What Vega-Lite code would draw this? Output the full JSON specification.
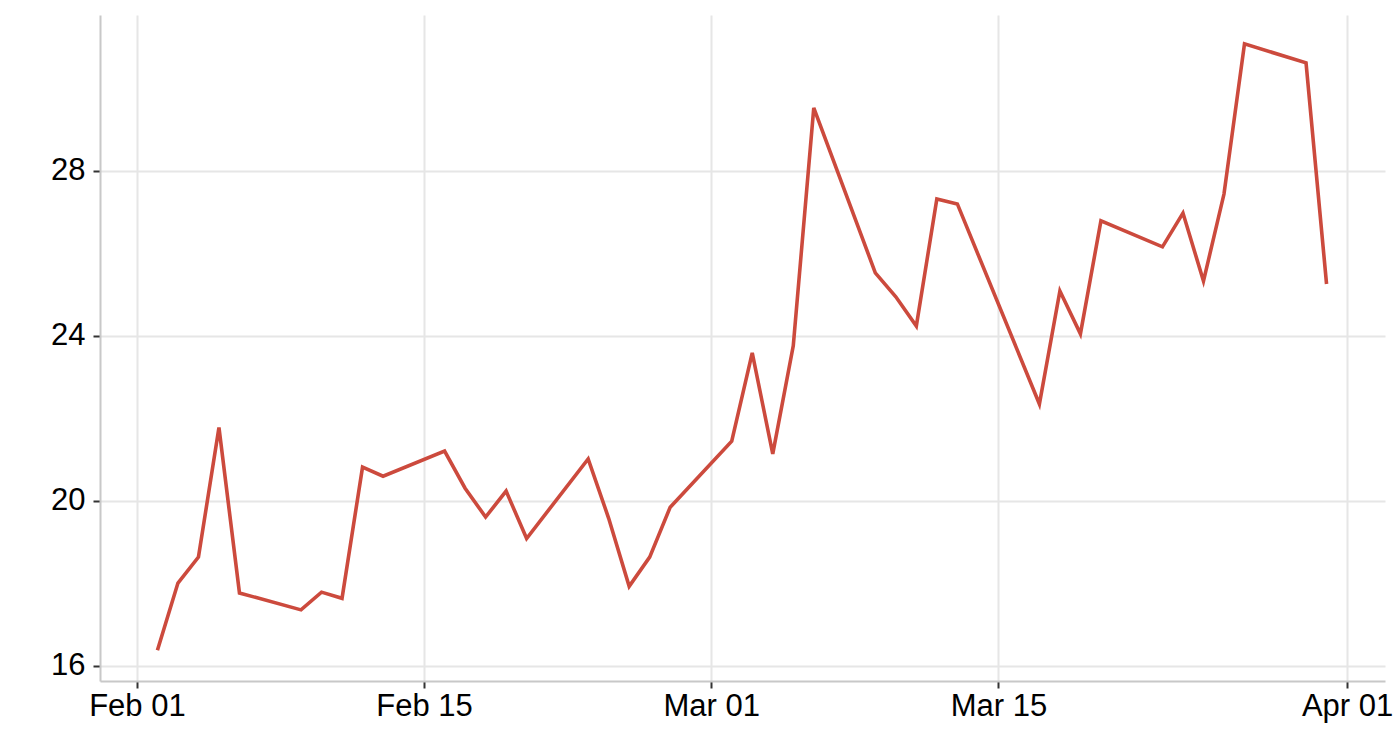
{
  "$schema": "https://vega.github.io/schema/vega-lite/v6.json",
  "width": 1285,
  "height": 666,
  "autosize": {"type": "none"},
  "padding": {"left": 100, "top": 15, "right": 15, "bottom": 59},
  "background": "white",
  "data": {
    "values": [
      {"date": "2026-02-02", "value": 16.38},
      {"date": "2026-02-03", "value": 18.01},
      {"date": "2026-02-04", "value": 18.64},
      {"date": "2026-02-05", "value": 21.78},
      {"date": "2026-02-06", "value": 17.77},
      {"date": "2026-02-09", "value": 17.36},
      {"date": "2026-02-10", "value": 17.79},
      {"date": "2026-02-11", "value": 17.64},
      {"date": "2026-02-12", "value": 20.82},
      {"date": "2026-02-13", "value": 20.6},
      {"date": "2026-02-16", "value": 21.21},
      {"date": "2026-02-17", "value": 20.31},
      {"date": "2026-02-18", "value": 19.61},
      {"date": "2026-02-19", "value": 20.24},
      {"date": "2026-02-20", "value": 19.09},
      {"date": "2026-02-23", "value": 21.02},
      {"date": "2026-02-24", "value": 19.58},
      {"date": "2026-02-25", "value": 17.93},
      {"date": "2026-02-26", "value": 18.64},
      {"date": "2026-02-27", "value": 19.85},
      {"date": "2026-03-02", "value": 21.45},
      {"date": "2026-03-03", "value": 23.59},
      {"date": "2026-03-04", "value": 21.14},
      {"date": "2026-03-05", "value": 23.76},
      {"date": "2026-03-06", "value": 29.53},
      {"date": "2026-03-09", "value": 25.53},
      {"date": "2026-03-10", "value": 24.95},
      {"date": "2026-03-11", "value": 24.24},
      {"date": "2026-03-12", "value": 27.32},
      {"date": "2026-03-13", "value": 27.2},
      {"date": "2026-03-17", "value": 22.35},
      {"date": "2026-03-18", "value": 25.09},
      {"date": "2026-03-19", "value": 24.05},
      {"date": "2026-03-20", "value": 26.79},
      {"date": "2026-03-23", "value": 26.16},
      {"date": "2026-03-24", "value": 26.98},
      {"date": "2026-03-25", "value": 25.33},
      {"date": "2026-03-26", "value": 27.44},
      {"date": "2026-03-27", "value": 31.08},
      {"date": "2026-03-30", "value": 30.62},
      {"date": "2026-03-31", "value": 25.26}
    ],
    "format": {"parse": {"date": "date:'%Y-%m-%d'"}}
  },
  "mark": {"type": "line", "color": "#CC4A3D", "strokeWidth": 3.6, "strokeJoin": "miter", "clip": true},
  "encoding": {
    "x": {
      "field": "date",
      "type": "temporal",
      "title": null,
      "scale": {
        "domain": [
          {"year": 2026, "month": 1, "date": 30, "hours": 4, "minutes": 48},
          {"year": 2026, "month": 4, "date": 2, "hours": 20, "minutes": 24}
        ]
      },
      "axis": {
        "values": [
          {"year": 2026, "month": 2, "date": 1},
          {"year": 2026, "month": 2, "date": 15},
          {"year": 2026, "month": 3, "date": 1},
          {"year": 2026, "month": 3, "date": 15},
          {"year": 2026, "month": 4, "date": 1}
        ],
        "format": "%b %d",
        "labelPadding": 3,
        "labelAngle": 0
      }
    },
    "y": {
      "field": "value",
      "type": "quantitative",
      "title": null,
      "scale": {"domain": [15.636, 31.78], "nice": false, "zero": false},
      "axis": {"values": [16, 20, 24, 28], "labelPadding": 8}
    }
  },
  "config": {
    "view": {"stroke": null},
    "axis": {
      "labelFont": "Liberation Sans",
      "labelFontSize": 31,
      "labelColor": "#000000",
      "domainColor": "#C8C8C8",
      "domainWidth": 2,
      "tickColor": "#333333",
      "tickWidth": 2,
      "tickSize": 7,
      "gridColor": "#E6E6E6",
      "gridWidth": 2,
      "labelOverlap": false,
      "labelFlush": false
    }
  }
}
